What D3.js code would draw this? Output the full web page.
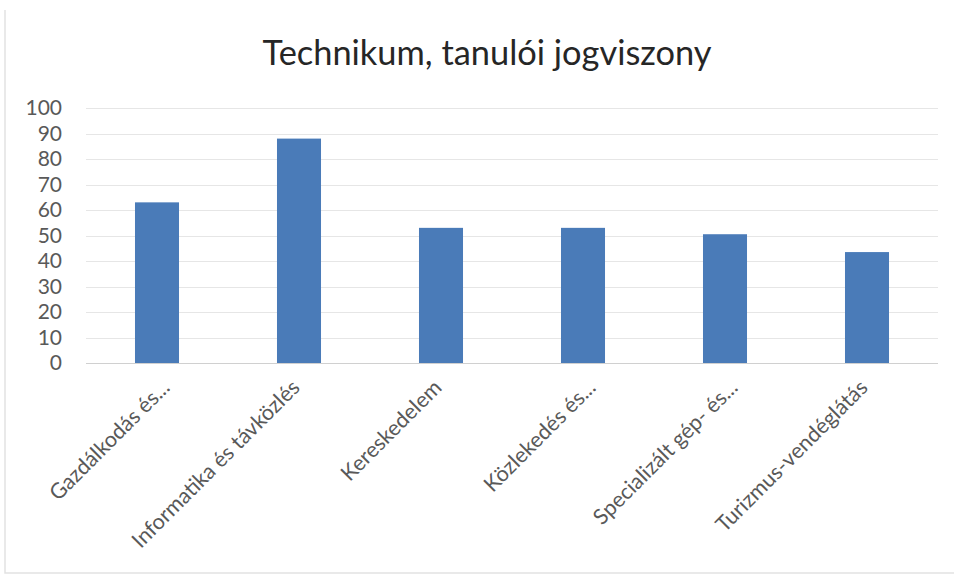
<!DOCTYPE html>
<html>
<head>
<meta charset="utf-8">
<script src="https://cdn.jsdelivr.net/npm/d3@7"></script>
<style>
  body { margin: 0; background: #fff; }
  svg { display: block; }
  text { font-family: Lato, "Open Sans", sans-serif; }
</style>
</head>
<body>
<div id="chart"></div>
<script>
var categories = ["Gazdálkodás és...", "Informatika és távközlés", "Kereskedelem",
                  "Közlekedés és...", "Specializált gép- és...", "Turizmus-vendéglátás"];
var values = [63, 88, 53, 53, 50.5, 43.5];
var yTicks = [0, 10, 20, 30, 40, 50, 60, 70, 80, 90, 100];
var title = "Technikum, tanulói jogviszony";

var width = 954, height = 577;
var margin = {top: 108, right: 16, bottom: 214, left: 86};

var svg = d3.select("#chart").append("svg")
    .attr("width", width)
    .attr("height", height);

// faint frame of the chart area (left + bottom visible in the scan)
svg.append("path")
    .attr("d", "M5,10V573H954")
    .attr("fill", "none")
    .attr("stroke", "#e2e2e2")
    .attr("stroke-width", 1.5);

var x = d3.scaleBand()
    .domain(categories)
    .range([margin.left, width - margin.right])
    .paddingInner(0.69)
    .paddingOuter(0.345);

var y = d3.scaleLinear()
    .domain([0, 100])
    .range([363, margin.top]);

// gridlines
svg.append("g")
    .selectAll("line")
    .data(yTicks)
    .enter().append("line")
    .attr("x1", margin.left)
    .attr("x2", width - margin.right)
    .attr("y1", function(d) { return Math.round(y(d)) + 0.5; })
    .attr("y2", function(d) { return Math.round(y(d)) + 0.5; })
    .attr("stroke", function(d) { return d === 0 ? "#d0d0d0" : "#e6e6e6"; })
    .attr("stroke-width", 1);

// y axis labels
var yAxis = d3.axisLeft(y).tickValues(yTicks).tickSize(0).tickPadding(0);
var gy = svg.append("g")
    .attr("transform", "translate(62,0)")
    .call(yAxis);
gy.select(".domain").remove();
gy.selectAll("text")
    .attr("fill", "#595959")
    .style("font-size", "21px")
    .style("font-family", "Lato, 'Open Sans', sans-serif");

// bars
svg.append("g")
    .selectAll("rect")
    .data(values)
    .enter().append("rect")
    .attr("x", function(d, i) { return x(categories[i]); })
    .attr("width", x.bandwidth())
    .attr("y", function(d) { return y(d); })
    .attr("height", function(d) { return y(0) - y(d); })
    .attr("fill", "#4a7bb8");

// rotated category labels
svg.append("g")
    .selectAll("text")
    .data(categories)
    .enter().append("text")
    .attr("text-anchor", "end")
    .attr("fill", "#595959")
    .style("font-size", "21.5px")
    .attr("transform", function(d) {
      var cx = x(d) + x.bandwidth() / 2;
      var shift = d.slice(-3) === "..." ? 14 : 2;
      return "translate(" + (cx + shift) + ",389) rotate(-45)";
    })
    .text(function(d) { return d; });

// title
svg.append("text")
    .attr("x", 487)
    .attr("y", 65)
    .attr("text-anchor", "middle")
    .attr("fill", "#262626")
    .style("font-size", "34.4px")
    .text(title);
</script>
</body>
</html>
